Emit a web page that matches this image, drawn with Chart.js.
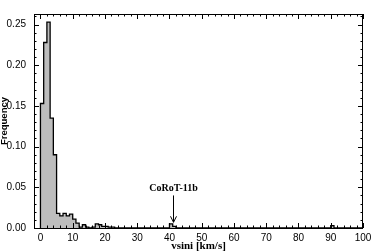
<!DOCTYPE html>
<html>
<head>
<meta charset="utf-8">
<script src="https://cdn.jsdelivr.net/npm/chart.js@4.4.0/dist/chart.umd.min.js"></script>
<style>
  html, body { margin: 0; padding: 0; background: #fff; }
  #wrap { width: 382px; height: 251px; }
</style>
</head>
<body>
<div id="wrap"><canvas id="chart"></canvas></div>
<script>
// bins of 1 km/s, starting at 0
const binWidth = 1;
const frequency = [
  0.153, 0.228, 0.253, 0.135, 0.090, 0.018, 0.015, 0.018, 0.015, 0.017,
  0.011, 0.006, 0.001, 0.004, 0.001, 0.000, 0.001, 0.005, 0.004, 0.002,
  0.002, 0.001, 0.001, 0.000, 0.000, 0.000, 0.000, 0.000, 0.000, 0.000,
  0.000, 0.000, 0.000, 0.000, 0.000, 0.000, 0.000, 0.000, 0.000, 0.000,
  0.005, 0.002, 0.000, 0.000, 0.000, 0.000, 0.000, 0.000, 0.000, 0.000,
  0.000, 0.000, 0.000, 0.000, 0.000, 0.000, 0.000, 0.000, 0.000, 0.000,
  0.000, 0.000, 0.000, 0.000, 0.000, 0.000, 0.000, 0.000, 0.000, 0.000,
  0.000, 0.000, 0.000, 0.000, 0.000, 0.000, 0.000, 0.000, 0.000, 0.000,
  0.000, 0.000, 0.000, 0.000, 0.000, 0.000, 0.000, 0.000, 0.000, 0.000,
  0.003, 0.000, 0.000, 0.000, 0.000, 0.000, 0.000, 0.000, 0.000, 0.000
];
const xTicks = [0, 10, 20, 30, 40, 50, 60, 70, 80, 90, 100];
const yTicks = [0.00, 0.05, 0.10, 0.15, 0.20, 0.25];
const xMinorStep = 2;
const yMinorStep = 0.01;

// arrow label for the planet
const annotLabel = "CoRoT-11b";
const annotX = 41;
const annotTextY = 0.049;
const annotArrowFrom = 0.040;
const annotArrowTo = 0.007;

// step outline points: start at baseline, one point per bin edge, back to baseline
let points = [{ x: 0, y: 0 }];
for (let i = 0; i < frequency.length; i++) {
  points.push({ x: i * binWidth, y: frequency[i] });
}
points.push({ x: frequency.length * binWidth, y: 0 });

const tickFont = { family: "'Liberation Sans Narrow', 'Liberation Sans', sans-serif", size: 10 };

const framePlugin = {
  id: "frame",
  afterDatasetsDraw(chart) {
    const ctx = chart.ctx;
    const a = chart.chartArea;
    const xs = chart.scales.x;
    const ys = chart.scales.y;
    ctx.save();
    ctx.strokeStyle = "#000";
    ctx.lineWidth = 1;
    ctx.strokeRect(a.left + 0.5, a.top + 0.5, a.right - a.left - 1, a.bottom - a.top);

    // x ticks, bottom and top, pointing inward
    for (let v = 0; v <= xs.max + 1e-9; v += xMinorStep) {
      const px = Math.round(xs.getPixelForValue(v)) + 0.5;
      const len = v % 10 === 0 ? 5 : 2.5;
      ctx.beginPath();
      ctx.moveTo(px, a.bottom);
      ctx.lineTo(px, a.bottom - len);
      ctx.moveTo(px, a.top);
      ctx.lineTo(px, a.top + len);
      ctx.stroke();
    }
    // y ticks, left and right
    for (let k = 0; k * yMinorStep <= ys.max + 1e-9; k++) {
      const v = k * yMinorStep;
      const py = Math.round(ys.getPixelForValue(v)) + 0.5;
      const len = k % 5 === 0 ? 5 : 2.5;
      ctx.beginPath();
      ctx.moveTo(a.left, py);
      ctx.lineTo(a.left + len, py);
      ctx.moveTo(a.right, py);
      ctx.lineTo(a.right - len, py);
      ctx.stroke();
    }

    // annotation
    const ax = Math.round(xs.getPixelForValue(annotX)) + 0.5;
    const y0 = ys.getPixelForValue(annotArrowFrom);
    const y1 = ys.getPixelForValue(annotArrowTo);
    ctx.beginPath();
    ctx.moveTo(ax, y0);
    ctx.lineTo(ax, y1);
    ctx.moveTo(ax - 3, y1 - 6);
    ctx.lineTo(ax, y1);
    ctx.lineTo(ax + 3, y1 - 6);
    ctx.stroke();
    ctx.fillStyle = "#000";
    ctx.font = "bold 10px 'Liberation Serif', serif";
    ctx.textAlign = "center";
    ctx.textBaseline = "middle";
    ctx.fillText(annotLabel, ax, ys.getPixelForValue(annotTextY));
    ctx.restore();
  }
};

new Chart(document.getElementById("chart"), {
  type: "line",
  data: {
    datasets: [
      {
        data: points,
        stepped: "before",
        fill: "origin",
        backgroundColor: "#bdbdbd",
        borderColor: "#000",
        borderWidth: 1.3,
        pointRadius: 0,
        tension: 0,
      },
    ],
  },
  options: {
    responsive: true,
    maintainAspectRatio: false,
    animation: false,
    layout: { padding: { top: 7, right: 19, left: 0, bottom: 0 } },
    plugins: {
      legend: { display: false },
      tooltip: { enabled: false },
    },
    scales: {
      x: {
        type: "linear",
        min: -2,
        max: 100,
        grid: { display: false, drawTicks: false },
        border: { display: false },
        afterBuildTicks: (scale) => {
          scale.ticks = xTicks.map((v) => ({ value: v }));
        },
        afterFit: (scale) => {
          scale.height = 23;
        },
        ticks: {
          color: "#000",
          font: tickFont,
          padding: 4,
          maxRotation: 0,
          callback: (v) => String(v),
        },
        title: {
          display: true,
          text: "vsini [km/s]",
          color: "#000",
          font: { family: "'Liberation Serif', serif", size: 11, weight: "bold", lineHeight: 1 },
          padding: { top: 0, bottom: -1 },
        },
      },
      y: {
        min: 0,
        max: 0.263,
        grid: { display: false, drawTicks: false },
        border: { display: false },
        afterBuildTicks: (scale) => {
          scale.ticks = yTicks.map((v) => ({ value: v }));
        },
        afterFit: (scale) => {
          scale.width = 34;
        },
        ticks: {
          color: "#000",
          font: tickFont,
          padding: 8,
          callback: (v) => v.toFixed(2),
        },
        title: {
          display: true,
          text: "Frequency",
          color: "#000",
          font: { family: "'Liberation Sans Narrow', 'Liberation Sans', sans-serif", size: 9.5, weight: "bold", lineHeight: 1 },
          padding: { top: 0, bottom: 0 },
        },
      },
    },
  },
  plugins: [framePlugin],
});
</script>
</body>
</html>
